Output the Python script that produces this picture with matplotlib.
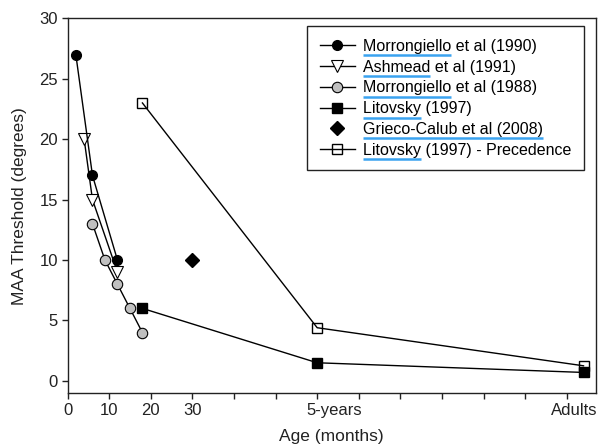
import matplotlib
matplotlib.use("Agg")
import matplotlib.pyplot as plt
from matplotlib.lines import Line2D
from matplotlib.transforms import IdentityTransform

plt.rcParams['font.family'] = ['Liberation Sans', 'DejaVu Sans']

# Data
morr1990_x = [2, 6, 12]
morr1990_y = [27, 17, 10]
ash1991_x = [4, 6, 12]
ash1991_y = [20, 15, 9]
morr1988_x = [6, 9, 12, 15, 18]
morr1988_y = [13, 10, 8, 6, 4]
lit1997_x = [18, 60, 124]
lit1997_y = [6, 1.5, 0.7]
grieco_x = [30]
grieco_y = [10]
litprec_x = [18, 60, 124]
litprec_y = [23, 4.4, 1.25]

labels = ["Morrongiello et al (1990)", "Ashmead et al (1991)", "Morrongiello et al (1988)",
          "Litovsky (1997)", "Grieco-Calub et al (2008)", "Litovsky (1997) - Precedence"]
underlined = ["Morrongiello", "Ashmead", "Morrongiello", "Litovsky",
              "Grieco-Calub et al (2008)", "Litovsky"]

xticks = list(range(0, 130, 10))
xticklabels = ['0', '10', '20', '30'] + [''] * 9
special_labels = ['5-years', 'Adults']
special_pos = [64.2, 121.7]
yticks = [0, 5, 10, 15, 20, 25, 30]

FS_TICK = 12
FS_LAB = 12.5
FS_LEG = 11.5
fig = plt.figure(figsize=(5.99, 4.48), dpi=100)
ax = fig.add_axes([0.1127, 0.1228, 0.995 - 0.1127, 0.959 - 0.1228])

lw = 1.0
ax.plot(litprec_x, litprec_y, color='black', lw=lw, marker='s', ms=7,
        mfc='none', mec='black', mew=1.0, label=labels[5], zorder=2)
ax.plot(lit1997_x, lit1997_y, color='black', lw=lw, marker='s', ms=7,
        mfc='black', mec='black', label=labels[3], zorder=3)
ax.plot(morr1988_x, morr1988_y, color='black', lw=lw, marker='o', ms=7.5,
        mfc='#c0c0c0', mec='black', mew=0.8, label=labels[2], zorder=3)
ax.plot(ash1991_x, ash1991_y, color='black', lw=lw, marker='v', ms=9,
        mfc='white', mec='black', mew=0.8, label=labels[1], zorder=4)
ax.plot(morr1990_x, morr1990_y, color='black', lw=lw, marker='o', ms=7,
        mfc='black', mec='black', label=labels[0], zorder=5)
ax.plot(grieco_x, grieco_y, ls='none', marker='D', ms=7.5,
        mfc='black', mec='black', label=labels[4], zorder=5)

ax.set_xlim(0, 127)
ax.set_ylim(-1, 30)
ax.set_xticks(xticks)
ax.set_xticklabels(xticklabels)
ax.set_yticks(yticks)
ax.tick_params(direction='out', length=4, width=1, pad=3, labelsize=FS_TICK, colors='#222222')
for s in ax.spines.values():
    s.set_linewidth(1.0)
    s.set_color('#222222')

for lab, pos in zip(special_labels, special_pos):
    ax.annotate(lab, xy=(pos, 0), xycoords=('data', 'axes fraction'),
                xytext=(0, -7), textcoords='offset points', ha='center', va='top',
                fontsize=FS_TICK, color='#222222')

ax.set_xlabel('Age (months)', fontsize=FS_LAB, color='#222222')
ax.xaxis.set_label_coords(0.5, -0.096)
ax.set_ylabel('MAA Threshold (degrees)', fontsize=FS_LAB, color='#222222')
ax.yaxis.set_label_coords(-0.076, 0.5)

handles, labs = ax.get_legend_handles_labels()
order = [labs.index(l) for l in labels]
leg = ax.legend([handles[i] for i in order], labels, loc='upper right',
                bbox_to_anchor=(0.9773, 0.9794), borderaxespad=0, fontsize=FS_LEG,
                frameon=True, fancybox=False, edgecolor='#222222', framealpha=1,
                handlelength=2.2, handletextpad=0.5, borderpad=0.8, labelspacing=0.36)
leg.get_frame().set_linewidth(1.0)

fig.canvas.draw()
renderer = fig.canvas.get_renderer()
for txt, sub in zip(leg.get_texts(), underlined):
    bb = txt.get_window_extent(renderer)
    tmp = fig.text(0, 0, sub, fontproperties=txt.get_fontproperties())
    w = tmp.get_window_extent(renderer).width
    tmp.remove()
    y = bb.y0 - 1.5
    fig.add_artist(Line2D([bb.x0, bb.x0 + w], [y, y], transform=IdentityTransform(),
                          color='#3aa3f0', lw=1.8, solid_capstyle='butt'))

fig.savefig('out.png', dpi=100)
